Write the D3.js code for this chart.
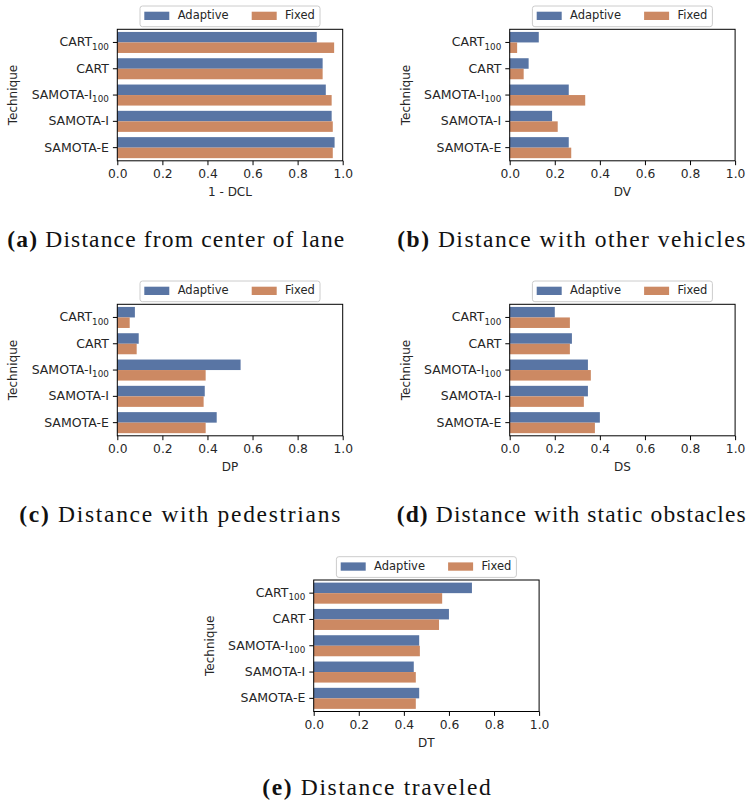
<!DOCTYPE html>
<html>
<head>
<meta charset="utf-8">
<script src="https://cdn.jsdelivr.net/npm/d3@7"></script>
<style>
  body { margin: 0; background: #fff; }
  svg { display: block; font-family: "DejaVu Sans", sans-serif; }
</style>
</head>
<body>
<svg id="fig" width="747" height="804"></svg>
<script>
// techniques, "_" marks the subscript part of the label
var techniques = ["CART_100", "CART", "SAMOTA-I_100", "SAMOTA-I", "SAMOTA-E"];
var modes = ["Adaptive", "Fixed"];

var dclAdaptive = [0.885, 0.911, 0.925, 0.951, 0.964];
var dclFixed    = [0.962, 0.911, 0.951, 0.956, 0.956];
var dvAdaptive  = [0.129, 0.084, 0.262, 0.188, 0.262];
var dvFixed     = [0.033, 0.062, 0.335, 0.213, 0.273];
var dpAdaptive  = [0.078, 0.095, 0.547, 0.388, 0.441];
var dpFixed     = [0.055, 0.086, 0.392, 0.383, 0.392];
var dsAdaptive  = [0.200, 0.276, 0.347, 0.347, 0.400];
var dsFixed     = [0.267, 0.267, 0.360, 0.329, 0.378];
var dtAdaptive  = [0.702, 0.600, 0.468, 0.444, 0.468];
var dtFixed     = [0.570, 0.556, 0.471, 0.453, 0.453];

var metricLabels = ["1 - DCL", "DV", "DP", "DS", "DT"];
var captionLetters = ["(a)", "(b)", "(c)", "(d)", "(e)"];
var captionTexts = ["Distance from center of lane", "Distance with other vehicles",
                    "Distance with pedestrians", "Distance with static obstacles",
                    "Distance traveled"];
var xTicks = [0, 0.2, 0.4, 0.6, 0.8, 1.0];

var seriesByPanel = [
  [dclAdaptive, dclFixed],
  [dvAdaptive, dvFixed],
  [dpAdaptive, dpFixed],
  [dsAdaptive, dsFixed],
  [dtAdaptive, dtFixed]
];

// layout (axes top-left corner, caption placement)
var axW = 225.4, axH = 131.5;
var layout = [
  {x: 117.3, y: 29.3,  cx: 7.3,   cy: 247.3, cw: 337},
  {x: 509.7, y: 29.3,  cx: 397.3, cy: 247.3, cw: 348},
  {x: 117.3, y: 304.3, cx: 19.3,  cy: 521.7, cw: 321},
  {x: 509.7, y: 304.3, cx: 396.7, cy: 521.7, cw: 349},
  {x: 313.7, y: 580,   cx: 262.3, cy: 795,   cw: 228.5}
];

var colors = {"Adaptive": "#5975a4", "Fixed": "#cc8963"};
var ink = "#262626";

var svg = d3.select("#fig");
svg.append("rect").attr("width", 747).attr("height", 804).attr("fill", "#fff");

var x = d3.scaleLinear().domain([0, 1]).range([0, axW]);
var y = d3.scaleBand().domain(techniques).range([0, axH])
        .paddingInner(0.2).paddingOuter(0.1);
var ySub = d3.scaleBand().domain(modes).range([0, y.bandwidth()]);

function drawPanel(i) {
  var L = layout[i];
  var series = seriesByPanel[i];
  var g = svg.append("g").attr("transform", `translate(${L.x},${L.y})`);

  // bars
  modes.forEach(function(m, k) {
    g.append("g").selectAll("rect")
      .data(techniques)
      .join("rect")
      .attr("x", 0)
      .attr("y", d => y(d) + ySub(m))
      .attr("width", (d, j) => x(series[k][j]))
      .attr("height", ySub.bandwidth())
      .attr("fill", colors[m]);
  });

  // x axis
  var xa = g.append("g")
    .attr("transform", `translate(0,${axH})`)
    .call(d3.axisBottom(x).tickValues(xTicks).tickFormat(d3.format(".1f"))
          .tickSize(4.4).tickPadding(4).tickSizeOuter(0));
  xa.select(".domain").remove();
  xa.attr("font-size", 12.3).attr("font-family", "DejaVu Sans, sans-serif");
  xa.selectAll("line").attr("stroke", "#000");
  xa.selectAll("text").attr("fill", ink);

  // y axis
  var ya = g.append("g")
    .call(d3.axisLeft(y).tickSize(4.4).tickPadding(4).tickSizeOuter(0));
  ya.select(".domain").remove();
  ya.attr("font-size", 12.5).attr("font-family", "DejaVu Sans, sans-serif");
  ya.selectAll("line").attr("stroke", "#000");
  ya.selectAll("text").each(function(d) {
    var parts = d.split("_");
    var t = d3.select(this).text("").attr("fill", ink);
    t.append("tspan").text(parts[0]);
    if (parts[1]) {
      t.append("tspan").attr("font-size", 8.8).attr("dy", 3.2).text(parts[1]);
    }
  });

  // spines
  g.append("rect")
    .attr("width", axW).attr("height", axH)
    .attr("fill", "none").attr("stroke", "#000").attr("stroke-width", 1);

  // axis labels
  g.append("text")
    .attr("x", axW / 2).attr("y", axH + 35.5)
    .attr("text-anchor", "middle").attr("font-size", 12).attr("fill", ink)
    .text(metricLabels[i]);
  g.append("text")
    .attr("transform", `translate(-100,${axH / 2}) rotate(-90)`)
    .attr("text-anchor", "middle").attr("font-size", 12).attr("fill", ink)
    .text("Technique");

  // legend
  var lg = g.append("g").attr("transform", `translate(${axW / 2 - 90},${-23.3})`);
  lg.append("rect")
    .attr("width", 180).attr("height", 20.7).attr("rx", 2.5)
    .attr("fill", "#fff").attr("fill-opacity", 0.8)
    .attr("stroke", "#cccccc").attr("stroke-width", 1);
  var legX = [4.3, 111.7];
  modes.forEach(function(m, k) {
    lg.append("rect")
      .attr("x", legX[k]).attr("y", 5.7)
      .attr("width", 25).attr("height", 8.3)
      .attr("fill", colors[m]);
    lg.append("text")
      .attr("x", legX[k] + 33.4).attr("y", 13.3)
      .attr("font-size", 11.5).attr("fill", ink)
      .text(m);
  });

  // caption
  var cap = svg.append("text")
    .attr("x", L.cx).attr("y", L.cy)
    .attr("font-family", "Liberation Serif, DejaVu Serif, serif")
    .attr("font-size", 23.5).attr("fill", "#111")
    .attr("textLength", L.cw).attr("lengthAdjust", "spacing");
  cap.append("tspan").attr("font-weight", "bold").text(captionLetters[i]);
  cap.append("tspan").text(" " + captionTexts[i]);
}

for (var i = 0; i < 5; i++) drawPanel(i);
</script>
</body>
</html>
